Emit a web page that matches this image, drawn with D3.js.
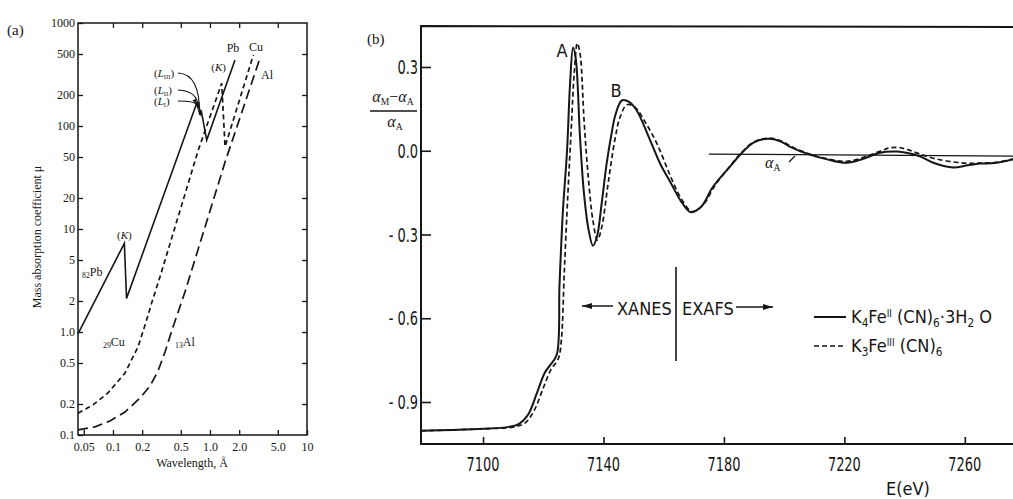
<!DOCTYPE html>
<html>
<head>
<meta charset="utf-8">
<script src="https://cdn.jsdelivr.net/npm/d3@7"></script>
<style>
body { margin: 0; background: #fff; }
</style>
</head>
<body>
<div id="chart"></div>
<script>
// ---------- panel (a): mass absorption coefficient vs wavelength ----------
var wlTicks = [0.05, 0.1, 0.2, 0.5, 1.0, 2.0, 5.0, 10];
var wlTickLabels = ["0.05", "0.1", "0.2", "0.5", "1.0", "2.0", "5.0", "10"];
var muTicks = [0.1, 0.2, 0.5, 1, 2, 5, 10, 20, 50, 100, 200, 500, 1000];
var muTickLabels = ["0.1", "0.2", "0.5", "1.0", "2", "5", "10", "20", "50", "100", "200", "500", "1000"];

// [wavelength (A), mu]
var pbPoints = [[0.0436, 0.96], [0.131, 7.26], [0.138, 2.12], [0.729, 166], [0.752, 150], [0.770, 156],
                [0.798, 131], [0.817, 137], [0.925, 73], [1.81, 437]];
var cuPoints = [[0.0436, 0.163], [0.0622, 0.196], [0.0888, 0.256], [0.133, 0.40], [0.181, 0.715], [0.219, 1.25],
                [0.252, 1.95], [0.305, 3.42], [0.758, 58.5], [1.32, 260], [1.43, 63], [2.80, 489]];
var alPoints = [[0.0436, 0.112], [0.0652, 0.120], [0.0931, 0.137], [0.133, 0.167], [0.190, 0.229], [0.241, 0.299],
                [0.291, 0.418], [0.344, 0.640], [0.406, 1.046], [0.552, 2.44], [1.43, 44.7], [3.28, 457]];

// ---------- panel (b): Fe K-edge, (aM - aA)/aA vs E ----------
var eTicks = [7100, 7140, 7180, 7220, 7260];
var ratioTicks = [0.3, 0.0, -0.3, -0.6, -0.9];
var ratioTickLabels = ["0.3", "0.0", "- 0.3", "- 0.6", "- 0.9"];

// K4Fe(II)(CN)6.3H2O  (solid)
var k4Points = [[7079.5, -1.003], [7090, -1.0], [7100, -0.996], [7108, -0.99], [7112, -0.978], [7115, -0.945],
  [7118, -0.865], [7120.5, -0.795], [7122.5, -0.765], [7124.5, -0.73], [7125.4, -0.48], [7126.5, -0.22],
  [7127.9, 0.0], [7128.9, 0.24], [7129.9, 0.37], [7130.8, 0.33], [7132.2, 0.05], [7133.5, -0.15], [7135, -0.28],
  [7136.5, -0.34], [7137.8, -0.31], [7139.5, -0.18], [7141, -0.05], [7142.5, 0.05], [7144, 0.13], [7146.1, 0.18],
  [7148.5, 0.175], [7151, 0.145], [7155.4, 0.04], [7159, -0.05], [7162.1, -0.11], [7166, -0.185], [7169, -0.22],
  [7172.5, -0.2], [7176.3, -0.13], [7182, -0.057], [7186, -0.007], [7190, 0.03], [7194.6, 0.043], [7198.5, 0.035],
  [7202, 0.014], [7208.5, -0.014], [7214, -0.03], [7220.8, -0.043], [7226, -0.03], [7231.8, -0.007], [7237.4, -0.003],
  [7241, -0.008], [7245.1, -0.02], [7250, -0.045], [7256, -0.06], [7261, -0.052], [7265, -0.046], [7270, -0.044],
  [7276, -0.03]];
// K3Fe(III)(CN)6  (dashed)
var k3Points = [[7079.5, -1.003], [7090, -1.0], [7100, -0.996], [7110, -0.99], [7114, -0.975], [7117, -0.93],
  [7120, -0.85], [7122.5, -0.785], [7125, -0.745], [7126, -0.68], [7127, -0.43], [7128.2, -0.15], [7129.3, 0.08],
  [7130.3, 0.28], [7131.3, 0.385], [7132.2, 0.35], [7133.6, 0.1], [7135, -0.1], [7136.5, -0.25], [7138, -0.32],
  [7139.5, -0.27], [7141.5, -0.12], [7143.8, 0.04], [7145.5, 0.12], [7147.8, 0.165], [7150.5, 0.155], [7154, 0.1],
  [7158, 0.02], [7162, -0.085], [7166, -0.175], [7169.5, -0.218], [7173, -0.195], [7177, -0.125], [7182, -0.055],
  [7186, -0.005], [7190, 0.032], [7195, 0.045], [7199, 0.035], [7203, 0.012], [7208.5, -0.012], [7214, -0.028],
  [7220.8, -0.038], [7226, -0.025], [7231.8, -0.002], [7235, 0.01], [7238, 0.012], [7241, 0.004], [7245.1, -0.012],
  [7250, -0.028], [7256, -0.04], [7261, -0.045], [7265, -0.044], [7270, -0.042], [7276, -0.03]];
var baselineStart = 7175;   // aA reference line
var baselineLevel = -0.012;

// setup
var ink = "#161616";
var serif = "'Liberation Serif','DejaVu Serif',serif";
var cond = "'DejaVu Sans Condensed','DejaVu Sans',sans-serif";

var svg = d3.select("#chart").append("svg")
    .attr("width", 1013).attr("height", 499)
    .style("background", "#fff");

var defs = svg.append("defs");
function marker(id, w, h) {
    defs.append("marker").attr("id", id)
        .attr("viewBox", "0 0 " + w + " " + h)
        .attr("refX", w).attr("refY", h / 2)
        .attr("markerWidth", w).attr("markerHeight", h)
        .attr("markerUnits", "userSpaceOnUse").attr("orient", "auto")
        .append("path").attr("d", "M0,0L" + w + "," + (h / 2) + "L0," + h + "z").attr("fill", ink);
}
marker("headB", 10, 6);
marker("headA", 5, 4);

// text with sub/superscripts: parts = [text, baseline offset, size factor, italic]
function richText(g, x, y, parts, size, anchor, family) {
    var t = g.append("text").attr("x", x).attr("y", y)
        .attr("font-size", size).attr("text-anchor", anchor || "start")
        .attr("font-family", family).attr("fill", ink);
    var shift = 0;
    parts.forEach(function(p) {
        var target = p[1] || 0;
        t.append("tspan").attr("dy", target - shift)
            .attr("font-size", size * (p[2] || 1))
            .attr("font-style", p[3] ? "italic" : null)
            .text(p[0]);
        shift = target;
    });
    return t;
}

// ================= panel (a) =================
var xA = d3.scaleLog().domain([0.0436, 10]).range([78, 307]);
var yA = d3.scaleLog().domain([0.1, 1000]).range([435, 23]);
var ga = svg.append("g").attr("font-family", serif).attr("fill", ink);

ga.append("rect")
    .attr("x", xA.range()[0]).attr("y", yA.range()[1])
    .attr("width", xA.range()[1] - xA.range()[0])
    .attr("height", yA.range()[0] - yA.range()[1])
    .attr("fill", "none").attr("stroke", ink).attr("stroke-width", 1.5);

function styleAxis(sel, size) {
    sel.select(".domain").remove();
    sel.attr("font-family", serif).attr("font-size", size);
    sel.selectAll("line").attr("stroke", ink).attr("stroke-width", 1.3);
    sel.selectAll("text").attr("fill", ink);
}
ga.append("g").attr("transform", "translate(0," + yA.range()[0] + ")")
    .call(d3.axisBottom(xA).tickValues(wlTicks).tickFormat(function(d, i) { return wlTickLabels[i]; })
        .tickSizeInner(-5).tickSizeOuter(0).tickPadding(7))
    .call(styleAxis, 12);
ga.append("g").attr("transform", "translate(0," + yA.range()[1] + ")")
    .call(d3.axisTop(xA).tickValues(wlTicks.slice(1, -1)).tickFormat("").tickSizeInner(-5).tickSizeOuter(0))
    .call(styleAxis, 12);
ga.append("g").attr("transform", "translate(" + xA.range()[0] + ",0)")
    .call(d3.axisLeft(yA).tickValues(muTicks).tickFormat(function(d, i) { return muTickLabels[i]; })
        .tickSizeInner(-5).tickSizeOuter(0).tickPadding(3))
    .call(styleAxis, 12);
ga.append("g").attr("transform", "translate(" + xA.range()[1] + ",0)")
    .call(d3.axisRight(yA).tickValues(muTicks.slice(1, -1)).tickFormat("").tickSizeInner(-5).tickSizeOuter(0))
    .call(styleAxis, 12);

var lineA = d3.line().x(function(d) { return xA(d[0]); }).y(function(d) { return yA(d[1]); });
ga.append("path").attr("d", lineA(pbPoints)).attr("fill", "none")
    .attr("stroke", ink).attr("stroke-width", 1.6).attr("stroke-linejoin", "miter");
ga.append("path").attr("d", lineA(cuPoints)).attr("fill", "none")
    .attr("stroke", ink).attr("stroke-width", 1.7).attr("stroke-dasharray", "5,3.5");
ga.append("path").attr("d", lineA(alPoints)).attr("fill", "none")
    .attr("stroke", ink).attr("stroke-width", 1.7).attr("stroke-dasharray", "10,5");

// axis titles
ga.append("text").attr("x", 192).attr("y", 467).attr("text-anchor", "middle")
    .attr("font-size", 12).text("Wavelength, Å");
ga.append("text").attr("transform", "translate(41,237) rotate(-90)").attr("text-anchor", "middle")
    .attr("font-size", 12).text("Mass absorption coefficient μ");
ga.append("text").attr("x", 7).attr("y", 35).attr("font-size", 15).text("(a)");

// curve labels
richText(ga, 82, 276, [["82", 2, 0.65], ["Pb", 0, 1]], 12, "start", serif);
richText(ga, 103, 346, [["29", 2, 0.65], ["Cu", 0, 1]], 12, "start", serif);
richText(ga, 175, 346, [["13", 2, 0.65], ["Al", 0, 1]], 12, "start", serif);
ga.append("text").attr("x", 233).attr("y", 52).attr("text-anchor", "middle").attr("font-size", 12).text("Pb");
ga.append("text").attr("x", 256).attr("y", 51).attr("text-anchor", "middle").attr("font-size", 12).text("Cu");
ga.append("text").attr("x", 267).attr("y", 79).attr("text-anchor", "middle").attr("font-size", 12).text("Al");
richText(ga, xA(pbPoints[1][0]), yA(pbPoints[1][1]) - 4, [["(", 0, 1], ["K", 0, 1, true], [")", 0, 1]], 11, "middle", serif);
richText(ga, xA(cuPoints[9][0]) - 3, yA(cuPoints[9][1]) - 12, [["(", 0, 1], ["K", 0, 1, true], [")", 0, 1]], 11, "middle", serif);

// L edge labels with leaders
var lLabels = [["III", 76.5, 9, 0.798, 131], ["II", 93.5, 6, 0.770, 156], ["I", 104.5, 0, 0.729, 166]];
lLabels.forEach(function(l) {
    richText(ga, 154, l[1], [["(", 0, 1], ["L", 0, 1, true], [l[0], 2, 0.6], [")", 0, 1]], 11, "start", serif);
    var x0 = 178, y0 = l[1] - 3.5;
    var x1 = xA(l[3]) - 1, y1 = yA(l[4]) + 1;
    var p = d3.path();
    p.moveTo(x0, y0);
    p.quadraticCurveTo(x1 - 1 + l[2] * 0.2, y0 + (l[2] > 0 ? 1 : 0), x1, y1);
    ga.append("path").attr("d", p.toString()).attr("fill", "none")
        .attr("stroke", ink).attr("stroke-width", 1.1).attr("marker-end", "url(#headA)");
});

// ================= panel (b) =================
var xB = d3.scaleLinear().domain([7079.4, 7276]).range([421, 1013]);
var yB = d3.scaleLinear().domain([-0.9, 0.3]).range([402, 67]);
var bottomB = 444, topB = 26;
var gb = svg.append("g").attr("fill", ink);

// frame
gb.append("path").attr("d", "M" + xB.range()[1] + "," + (topB + 1) + "L" + xB.range()[0] + "," + topB +
        "L" + xB.range()[0] + "," + bottomB + "L" + xB.range()[1] + "," + bottomB)
    .attr("fill", "none").attr("stroke", ink).attr("stroke-width", 2);

gb.append("g").attr("transform", "translate(0," + bottomB + ")")
    .call(d3.axisBottom(xB).tickValues(eTicks).tickFormat("").tickSizeInner(-7).tickSizeOuter(0))
    .call(function(s) { s.select(".domain").remove(); s.selectAll("line").attr("stroke", ink).attr("stroke-width", 1.6); });
gb.append("g").attr("transform", "translate(" + xB.range()[0] + ",0)")
    .call(d3.axisLeft(yB).tickValues(ratioTicks).tickFormat("").tickSizeInner(-10).tickSizeOuter(0))
    .call(function(s) { s.select(".domain").remove(); s.selectAll("line").attr("stroke", ink).attr("stroke-width", 1.6); });

function tickText(x, y, str, anchor) {
    gb.append("text").attr("transform", "translate(" + x + "," + y + ") scale(0.72,1)")
        .attr("font-family", cond).attr("font-size", 20).attr("text-anchor", anchor)
        .attr("fill", ink).text(str);
}
eTicks.forEach(function(e) { tickText(xB(e), 471, String(e), "middle"); });
ratioTicks.forEach(function(v, i) { tickText(418, yB(v) + 7, ratioTickLabels[i], "end"); });

// reference line aA
gb.append("line").attr("x1", xB(baselineStart)).attr("x2", xB.range()[1])
    .attr("y1", yB(baselineLevel)).attr("y2", yB(baselineLevel) + 2)
    .attr("stroke", ink).attr("stroke-width", 1.3);

var lineB = d3.line().curve(d3.curveCatmullRom.alpha(0.5))
    .x(function(d) { return xB(d[0]); }).y(function(d) { return yB(d[1]); });
gb.append("path").attr("d", lineB(k3Points)).attr("fill", "none")
    .attr("stroke", ink).attr("stroke-width", 1.7).attr("stroke-dasharray", "5,3");
gb.append("path").attr("d", lineB(k4Points)).attr("fill", "none")
    .attr("stroke", ink).attr("stroke-width", 2);

// peak labels
gb.append("text").attr("x", 562).attr("y", 57).attr("text-anchor", "middle")
    .attr("font-family", cond).attr("font-size", 18).text("A");
gb.append("text").attr("x", 616).attr("y", 97).attr("text-anchor", "middle")
    .attr("font-family", cond).attr("font-size", 18).text("B");

// aA label near reference line
richText(gb, 765, 168, [["α", 0, 1, true], ["A", 3, 0.6]], 16, "start", serif);
gb.append("line").attr("x1", 789).attr("y1", 162).attr("x2", 795).attr("y2", 156)
    .attr("stroke", ink).attr("stroke-width", 1.2);

// y label as a fraction
richText(gb, 393, 102, [["α", 0, 1, true], ["M", 3, 0.6], ["−", 0, 1], ["α", 0, 1, true], ["A", 3, 0.6]], 16, "middle", serif);
gb.append("line").attr("x1", 370).attr("x2", 417).attr("y1", 111).attr("y2", 111)
    .attr("stroke", ink).attr("stroke-width", 1.5);
richText(gb, 395, 127, [["α", 0, 1, true], ["A", 3, 0.6]], 16, "middle", serif);
gb.append("text").attr("x", 367).attr("y", 44).attr("font-family", serif).attr("font-size", 15).text("(b)");

// XANES | EXAFS
gb.append("line").attr("x1", 613).attr("x2", 582).attr("y1", 306).attr("y2", 306)
    .attr("stroke", ink).attr("stroke-width", 1.5).attr("marker-end", "url(#headB)");
gb.append("text").attr("x", 617).attr("y", 315).attr("font-family", cond).attr("font-size", 18).text("XANES");
gb.append("line").attr("x1", 676).attr("x2", 676).attr("y1", 267).attr("y2", 361)
    .attr("stroke", ink).attr("stroke-width", 1.6);
gb.append("text").attr("x", 682).attr("y", 315).attr("font-family", cond).attr("font-size", 18).text("EXAFS");
gb.append("line").attr("x1", 736).attr("x2", 773).attr("y1", 307).attr("y2", 307)
    .attr("stroke", ink).attr("stroke-width", 1.5).attr("marker-end", "url(#headB)");

// legend
var legendRows = [
    { y: 317, dash: null, width: 2,
      parts: [["K", 0, 1], ["4", 4, 0.65], ["Fe", 0, 1], ["II", -6, 0.55], [" (CN)", 0, 1], ["6", 4, 0.65],
              ["·3H", 0, 1], ["2", 4, 0.65], [" O", 0, 1]] },
    { y: 346, dash: "5,3", width: 1.7,
      parts: [["K", 0, 1], ["3", 4, 0.65], ["Fe", 0, 1], ["III", -6, 0.55], [" (CN)", 0, 1], ["6", 4, 0.65]] }
];
legendRows.forEach(function(r) {
    gb.append("line").attr("x1", 814).attr("x2", 846).attr("y1", r.y).attr("y2", r.y)
        .attr("stroke", ink).attr("stroke-width", r.width).attr("stroke-dasharray", r.dash);
    richText(gb, 851, r.y + 6, r.parts, 18, "start", cond);
});

gb.append("text").attr("x", 908).attr("y", 495).attr("text-anchor", "middle")
    .attr("font-family", cond).attr("font-size", 18).text("E(eV)");
</script>
</body>
</html>
